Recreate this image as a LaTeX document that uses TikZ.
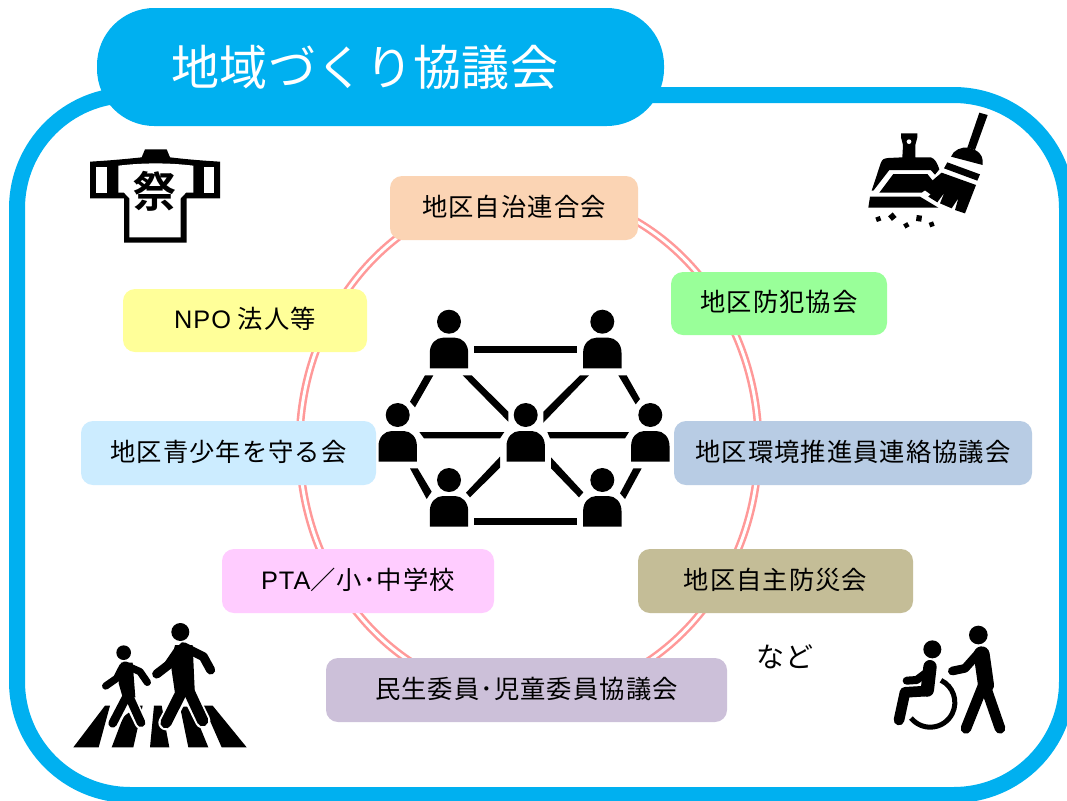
\documentclass[tikz,border=0pt]{standalone}
\usepackage{fontspec}
\setmainfont{Noto Sans CJK JP}
\newfontfamily\jpbody[LetterSpace=4]{Noto Sans CJK JP}
\newfontfamily\jptitle[LetterSpace=0.8]{Noto Sans CJK JP}
\newfontfamily\jpbold{Noto Sans CJK JP Bold}
\newfontfamily\latinbody[LetterSpace=4]{Liberation Sans}
\definecolor{frameblue}{HTML}{00B0F0}
\definecolor{ringpink}{HTML}{FF9999}
\definecolor{cA}{HTML}{FBD4B4}
\definecolor{cB}{HTML}{99FF99}
\definecolor{cC}{HTML}{FFFF99}
\definecolor{cD}{HTML}{CCECFF}
\definecolor{cE}{HTML}{B8CCE4}
\definecolor{cF}{HTML}{FFCCFF}
\definecolor{cG}{HTML}{C4BD97}
\definecolor{cH}{HTML}{CCC0D9}
\tikzset{
  lbl/.style={font=\jpbody\fontsize{19}{23}\selectfont,text=black},
  boxnode/.style={rounded corners=9pt,inner sep=0pt},
  limb/.style={draw=black,line cap=round,line join=round},
  halo/.style={draw=white,line cap=round,line join=round},
  zoomed/.style={x=0.25pt,y=-0.25pt},
}
\newcommand{\tagbox}[7]{%
  \node[boxnode,fill=#6,minimum width={(#4-#2)*0.75pt},minimum height={(#5-#3)*0.75pt}] (#1) at ({(#2+#4)/2},{(#3+#5)/2}) {};
  \node[lbl,inner sep=0pt] (#1t) at ({(#2+#4)/2},{(#3+#5)/2-1.5}) {#7};}
\newcommand{\person}[2]{%
  \fill[black] (#1,#2) circle[radius=12];
  \fill[black] (#1-19.2,#2+46.6) -- (#1-19.2,#2+31) .. controls (#1-19.2,#2+22) and (#1-13,#2+16) .. (#1-6,#2+16) -- (#1+6,#2+16) .. controls (#1+13,#2+16) and (#1+19.2,#2+22) .. (#1+19.2,#2+31) -- (#1+19.2,#2+46.6) -- cycle;
}
\begin{document}
\begin{tikzpicture}[x=0.75pt,y=-0.75pt]
\clip (0,0) rectangle (1067,800);
\fill[white] (0,0) rectangle (1067,800);
% frame
\draw[frameblue,line width=12pt,rounded corners=85pt] (17,95) rectangle (1067,795);
% ring
\draw[ringpink,double=white,double distance=2.2pt,line width=1.9pt] (529,445) ellipse [x radius=229.5,y radius=253];
% header
\node[fill=frameblue,rounded corners=43pt,inner sep=0pt,minimum width={567*0.75pt},minimum height={118*0.75pt}] (header) at (380.5,67) {};
\node[font=\jptitle\fontsize{36}{42}\selectfont,text=white,inner sep=0pt] (title) at (365,67) {地域づくり協議会};
% boxes
\tagbox{a}{390}{176}{638}{240}{cA}{地区自治連合会}
\tagbox{b}{671}{272}{887}{335}{cB}{地区防犯協会}
\tagbox{c}{123}{289}{367}{352}{cC}{{\latinbody NPO} 法人等}
\tagbox{d}{81}{421}{376}{485}{cD}{地区青少年を守る会}
\tagbox{e}{674}{421}{1032}{485}{cE}{地区環境推進員連絡協議会}
\tagbox{f}{222}{549}{494}{613}{cF}{{\latinbody PTA}／小･中学校}
\tagbox{g}{638}{549}{913}{613}{cG}{地区自主防災会}
\tagbox{h}{326}{658}{727}{722}{cH}{民生委員･児童委員協議会}
\node[font=\jpbody\fontsize{21}{25}\selectfont,text=black,inner sep=0pt] (nado) at (785,657) {など};
% network
\person{449}{321.7}\person{602.3}{321.7}\person{397.7}{415}\person{525.7}{415}\person{650.3}{415}\person{449}{480}\person{602.3}{480}
\begin{scope}[shift={(370,300)},zoomed]
\fill[black] (313,139)--(622,139)--(622,158)--(313,158)--cycle;
\fill[black] (313,655)--(622,655)--(622,675)--(313,675)--cycle;
\fill[black] (148,396)--(403,396)--(390,415)--(162,415)--cycle;
\fill[black] (532,396)--(777,396)--(765,415)--(540,415)--cycle;
\fill[black] (165,226)--(190,226)--(135,322)--(120,305)--cycle;
\fill[black] (278,226)--(305,226)--(415,335)--(415,365)--cycle;
\fill[black] (630,226)--(657,226)--(520,368)--(520,335)--cycle;
\fill[black] (745,226)--(770,226)--(810,297)--(797,313)--cycle;
\fill[black] (120,505)--(143,505)--(185,575)--(170,597)--cycle;
\fill[black] (390,470)--(390,503)--(300,592)--(288,578)--cycle;
\fill[black] (543,472)--(640,577)--(627,592)--(543,505)--cycle;
\fill[black] (790,505)--(815,505)--(765,597)--(750,580)--cycle;
\end{scope}
% happi
\begin{scope}[shift={(60,130)},zoomed]
\fill[black] (255,58)--(320,58)--(330,82) .. controls (380,88) and (430,92) .. (480,95)--(480,205)--(380,205)--(380,338)--(192,338)--(192,205)--(90,205)--(90,95) .. controls (140,92) and (190,88) .. (245,82)--cycle;
\fill[white] (107,110)--(140,110)--(140,188)--(107,188)--cycle;
\fill[white] (433,110)--(463,110)--(463,188)--(433,188)--cycle;
\fill[white] (175,107) .. controls (250,98) and (325,98) .. (400,107)--(400,188)--(378,188)--(362,205)--(362,322)--(208,322)--(208,205)--(192,188)--(175,188)--cycle;
\node[font=\jpbold\fontsize{32}{36}\selectfont,inner sep=0pt,text=black] (matsuri) at (285,185) {祭};
\end{scope}
% dustpan and broom
\begin{scope}[shift={(840,100)},zoomed]
\fill[black] (95,272)--(122,190) .. controls (126,178) and (132,175) .. (145,174)--(187,172)--(189,135)--(183,112)--(183,100)--(232,100)--(232,112)--(226,135)--(226,172)--(272,172) .. controls (285,175) and (292,190) .. (298,208)--(285,224)--(272,210)--(148,210)--(100,272)--cycle;
\fill[white] (207,125) circle[radius=7];
\fill[black] (118,278)--(160,222)--(262,222)--(285,250)--(245,278)--cycle;
\fill[black] (90,290)--(240,290)--(295,323)--(85,323)--cycle;
\fill[black] (418,38)--(443,45)--(405,150)--(382,143)--cycle;
\fill[black] (333,170) .. controls (340,150) and (365,140) .. (385,143)--(405,150) .. controls (425,160) and (430,175) .. (428,195)--cycle;
\fill[black] (322,187)--(420,223)--(412,242)--(312,205)--cycle;
\fill[black] (305,218)--(408,255)--(375,340)--(345,330)--(355,295)--(335,325)--(300,310)--(313,278)--(292,307)--(265,290)--(290,262)--(270,282)--(248,266)--cycle;
\fill[black,rotate around={20:(115,357)}] (108,350) rectangle (122,364);
\fill[black,rotate around={40:(157,350)}] (148,341) rectangle (166,359);
\fill[black,rotate around={30:(199,376)}] (192,369) rectangle (206,383);
\fill[black,rotate around={-8:(237,355)}] (229,346) rectangle (245,364);
\fill[black,rotate around={20:(275,373)}] (268,366) rectangle (282,380);
\end{scope}
% pedestrians
\begin{scope}[shift={(60,610)},zoomed]
\fill[black] (135,287)--(150,287)--(116,412)--(40,412)--cycle;
\fill[black] (190,320)--(235,287)--(248,287)--(220,412)--(155,412)--cycle;
\fill[black] (282,287)--(305,287)--(328,412)--(270,412)--cycle;
\fill[black] (360,290)--(395,290)--(445,412)--(385,412)--cycle;
\fill[black] (430,287)--(458,287)--(560,412)--(485,412)--cycle;
% child
\draw[halo,line width=9.5pt] (210,270)--(243,338);
\draw[halo,line width=9.5pt] (205,260)--(158,340);
\draw[limb,line width=6.5pt] (205,250)--(158,340);
\draw[limb,line width=6.5pt] (210,265)--(243,338);
\fill[black] (183,158)--(218,158)--(226,262)--(188,262)--(176,220)--cycle;
\draw[limb,line width=5.5pt] (195,165)--(240,185)--(262,217);
\draw[limb,line width=5.5pt] (188,170)--(170,205)--(137,228);
\fill[black] (191,128) circle[radius=22];
% adult
\draw[halo,line width=11.5pt] (368,245)--(318,338);
\draw[halo,line width=11.5pt] (388,250)--(428,332);
\draw[limb,line width=8.5pt] (375,225)--(318,338);
\draw[limb,line width=8.5pt] (385,240)--(428,332);
\fill[black] (345,105)--(398,105)--(405,260)--(345,250)--(332,160)--cycle;
\draw[limb,line width=6.8pt] (370,110)--(430,140)--(452,180);
\draw[limb,line width=6.8pt] (356,120)--(325,165)--(290,192);
\fill[black] (361,66) circle[radius=27];
\end{scope}
% wheelchair
\begin{scope}[shift={(880,615)},zoomed]
\draw[line width=3.75pt,black] (183,196) arc[start angle=-64,end angle=141,radius=74];
\fill[black] (157,103) circle[radius=27];
\draw[limb,line width=10pt] (150,155)--(142,225);
\draw[limb,line width=6pt] (150,165)--(110,195)--(80,197);
\draw[limb,line width=8pt] (142,228)--(75,232)--(57,315);
\fill[black] (295,60) circle[radius=28];
\draw[limb,line width=12pt] (305,118)--(318,210);
\draw[limb,line width=6.5pt] (295,115)--(255,160)--(217,168);
\draw[limb,line width=8pt] (310,210)--(258,340);
\draw[limb,line width=8pt] (322,230)--(360,340);
\end{scope}
\end{tikzpicture}
\end{document}
